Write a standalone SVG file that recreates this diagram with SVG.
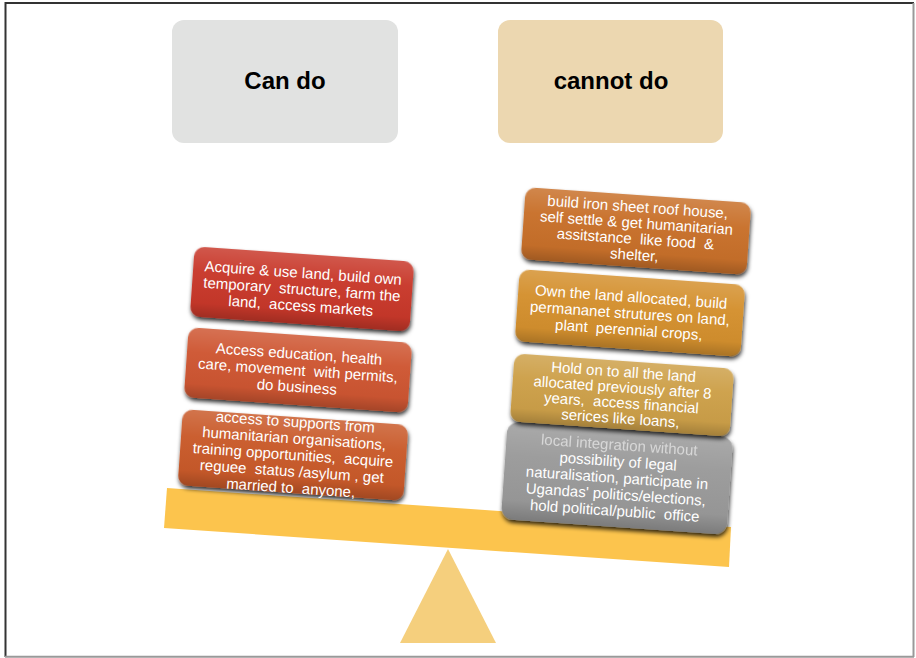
<svg xmlns="http://www.w3.org/2000/svg" width="916" height="658" viewBox="0 0 916 658">
<defs>
<style>
.title{font-family:"Liberation Sans",Arial,sans-serif;font-weight:bold;font-size:24px;fill:#000;text-anchor:middle}
.bt{font-family:"Liberation Sans",Arial,sans-serif;font-size:15px;fill:#fff;text-anchor:middle;white-space:pre}
.dim{fill:#e4e4e4;opacity:0.8}
</style>
<linearGradient id="gloss" x1="0" y1="0" x2="0" y2="1">
<stop offset="0" stop-color="#fff" stop-opacity="0.16"/>
<stop offset="0.35" stop-color="#fff" stop-opacity="0.03"/>
<stop offset="0.8" stop-color="#000" stop-opacity="0.03"/>
<stop offset="1" stop-color="#000" stop-opacity="0.2"/>
</linearGradient>
<filter id="sh" x="-10%" y="-15%" width="120%" height="140%">
<feDropShadow dx="1" dy="3" stdDeviation="2" flood-color="#000" flood-opacity="0.8"/>
</filter>
</defs>
<g id="frame">
<line x1="5.5" y1="2" x2="5.5" y2="657" stroke="#333" stroke-width="2"/>
<line x1="5" y1="3" x2="914" y2="3" stroke="#333" stroke-width="2"/>
<line x1="913.5" y1="3" x2="913.5" y2="657" stroke="#999" stroke-width="2"/>
<line x1="5" y1="656.8" x2="914" y2="656.8" stroke="#999" stroke-width="2"/>
</g>
<g id="header-can">
<rect x="172" y="20" width="226" height="123" rx="12" fill="#E1E2E1"/>
<text class="title" x="285" y="89">Can do</text>
</g>
<g id="header-cannot">
<rect x="498" y="20" width="225" height="123" rx="12" fill="#ECD7B0"/>
<text class="title" x="611" y="89">cannot do</text>
</g>
<g id="scale">
<polygon points="167,488 731,527 729,567 164,528" fill="#FCC44D"/>
<polygon points="448,549 400,643 496,643" fill="#F5CF7D"/>
</g>
<g id="left-3" transform="translate(293,455) rotate(4)">
<rect x="-113" y="-38" width="226" height="76" rx="10" fill="#C95A2A" filter="url(#sh)"/>
<rect x="-113" y="-38" width="226" height="76" rx="10" fill="url(#gloss)"/>
<text class="bt" y="-28">access to supports from</text>
<text class="bt" y="-11.5">humanitarian organisations,</text>
<text class="bt" y="5">training opportunities,  acquire</text>
<text class="bt" y="21.5">reguee  status /asylum , get</text>
<text class="bt" y="38">married to  anyone,</text>
</g>
<g id="left-2" transform="translate(298,370) rotate(4)">
<rect x="-112" y="-35" width="224" height="70" rx="10" fill="#CE5631" filter="url(#sh)"/>
<rect x="-112" y="-35" width="224" height="70" rx="10" fill="url(#gloss)"/>
<text class="bt" y="-11">Access education, health</text>
<text class="bt" y="5.5">care, movement  with permits,</text>
<text class="bt" y="22">do business</text>
</g>
<g id="left-1" transform="translate(302,289) rotate(4)">
<rect x="-110" y="-35" width="220" height="70" rx="10" fill="#C8372A" filter="url(#sh)"/>
<rect x="-110" y="-35" width="220" height="70" rx="10" fill="url(#gloss)"/>
<text class="bt" y="-11">Acquire &amp; use land, build own</text>
<text class="bt" y="5.5">temporary  structure, farm the</text>
<text class="bt" y="22">land,  access markets</text>
</g>
<g id="right-4" transform="translate(617,478) rotate(4)">
<rect x="-113" y="-49" width="226" height="98" rx="12" fill="#9A9A9A" filter="url(#sh)"/>
<rect x="-113" y="-49" width="226" height="98" rx="12" fill="url(#gloss)"/>
<text class="bt dim" y="-28">local integration without</text>
<text class="bt" y="-11.5">possibility of legal</text>
<text class="bt" y="5">naturalisation, participate in</text>
<text class="bt" y="21.5">Ugandas' politics/elections,</text>
<text class="bt" y="38">hold political/public  office</text>
</g>
<g id="right-3" transform="translate(622,395) rotate(4)">
<rect x="-110" y="-34" width="220" height="68" rx="10" fill="#CDA04A" filter="url(#sh)"/>
<rect x="-110" y="-34" width="220" height="68" rx="10" fill="url(#gloss)"/>
<text class="bt" y="-18">Hold on to all the land</text>
<text class="bt" y="-2.5">allocated previously after 8</text>
<text class="bt" y="13">years,  access financial</text>
<text class="bt" y="28.5">serices like loans,</text>
</g>
<g id="right-2" transform="translate(630,313) rotate(4)">
<rect x="-113" y="-36" width="226" height="72" rx="10" fill="#D4902E" filter="url(#sh)"/>
<rect x="-113" y="-36" width="226" height="72" rx="10" fill="url(#gloss)"/>
<text class="bt" y="-11">Own the land allocated, build</text>
<text class="bt" y="5.5">permananet strutures on land,</text>
<text class="bt" y="22">plant  perennial crops,</text>
</g>
<g id="right-1" transform="translate(636,231) rotate(4)">
<rect x="-113" y="-36" width="226" height="72" rx="10" fill="#C8702C" filter="url(#sh)"/>
<rect x="-113" y="-36" width="226" height="72" rx="10" fill="url(#gloss)"/>
<text class="bt" y="-19">build iron sheet roof house,</text>
<text class="bt" y="-3">self settle &amp; get humanitarian</text>
<text class="bt" y="13">assitstance  like food  &amp;</text>
<text class="bt" y="29">shelter,</text>
</g>
<g id="connectors"></g>
</svg>
